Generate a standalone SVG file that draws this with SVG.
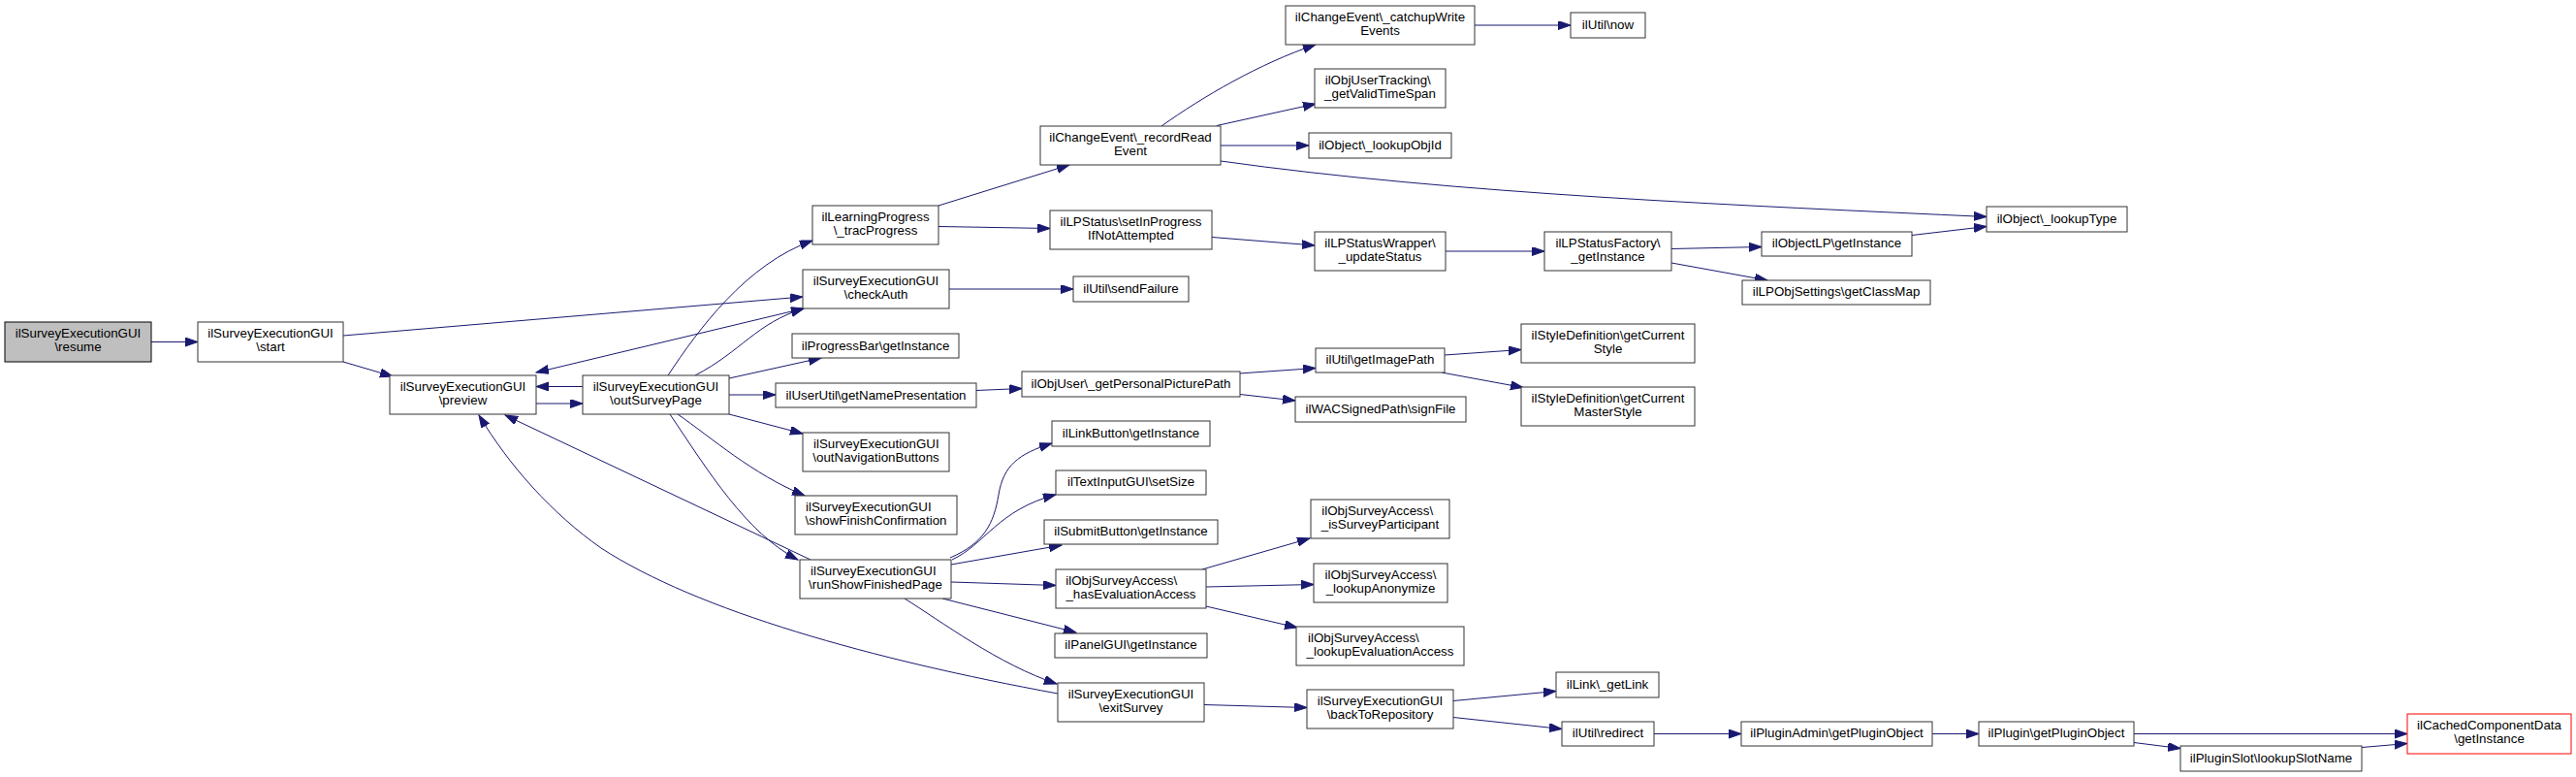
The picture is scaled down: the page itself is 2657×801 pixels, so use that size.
<svg xmlns="http://www.w3.org/2000/svg" width="2657" height="801" viewBox="0 0 2657 801">
<style>
.n rect{fill:#fff;stroke:#333;stroke-width:1}
.n text{font-family:"Liberation Sans",Arial,sans-serif;font-size:13.33px;fill:#000}
.m{text-anchor:middle}
.s{text-anchor:start}
#edges path{fill:none;stroke:#191970;stroke-width:1;marker-end:url(#ah)}
</style>
<defs>
<marker id="ah" markerUnits="userSpaceOnUse" markerWidth="14" markerHeight="10" refX="13" refY="4.5" orient="auto-start-reverse">
<path d="M0,0 L13,4.5 L0,9 z" fill="#191970" stroke="#191970" stroke-width="1"/>
</marker>
</defs>
<rect width="2657" height="801" fill="#fff"/>
<g id="edges">
<path d="M156,352.5 L204,352.5"/>
<path d="M354,346 L828,306"/>
<path d="M354,373 L405,388"/>
<path d="M553,416 L601,416"/>
<path d="M601,398.5 L553,398.5"/>
<path d="M689,387 C720,340 770,272 838,248"/>
<path d="M717,387 C765,362 780,333 829,318"/>
<path d="M553,384 L829,318" marker-start="url(#ah)"/>
<path d="M752,390 L847,369"/>
<path d="M752,407 L800,407"/>
<path d="M752,427 L828,447"/>
<path d="M699,427 C735,452 775,488 830,511"/>
<path d="M691,427 C730,485 770,550 823,577"/>
<path d="M836,577 L521,428"/>
<path d="M1091,715 C900,680 720,630 620,565 C570,530 525,480 494,428"/>
<path d="M980,575 C1015,560 1025,540 1030,510 C1035,480 1050,468 1085,457"/>
<path d="M982,577 C1015,562 1030,525 1089,510"/>
<path d="M981,582 L1095,562"/>
<path d="M981,600 L1089,603.5"/>
<path d="M972,617 L1110,652"/>
<path d="M933,617 C970,640 1030,685 1090,705"/>
<path d="M1242,726.5 L1348,729.5"/>
<path d="M1240,587 L1351,555"/>
<path d="M1244,605 L1355,602.5"/>
<path d="M1244,625 L1338,647"/>
<path d="M968,212 L1103,170"/>
<path d="M968,233.5 L1083,235.5"/>
<path d="M979,298 L1107,298"/>
<path d="M1007,402.5 L1054,400.5"/>
<path d="M1198,130 C1240,100 1300,65 1357,46"/>
<path d="M1255,129.5 L1357,107"/>
<path d="M1259,150 L1350,150"/>
<path d="M1259,166 C1500,200 1800,212 2049,223.5"/>
<path d="M1250,244.5 L1356,253"/>
<path d="M1491,259 L1593,259"/>
<path d="M1724,256.5 L1817,254.5"/>
<path d="M1724,271 L1823,289"/>
<path d="M1972,242.5 L2049,233.5"/>
<path d="M1521,26 L1620,26"/>
<path d="M1278,385 L1357,379.5"/>
<path d="M1279,406.5 L1336,413"/>
<path d="M1490,366 L1569,360.5"/>
<path d="M1487,384 L1571,399.5"/>
<path d="M1499,722.5 L1605,712.5"/>
<path d="M1499,739.5 L1611,751.5"/>
<path d="M1706,756.5 L1796,756.5"/>
<path d="M1993,756.5 L2041,756.5"/>
<path d="M2201,756.5 L2483,756.5"/>
<path d="M2201,765.5 L2249,771.5"/>
<path d="M2436,770.5 L2483,766.5"/>
</g>
<g id="n-resume" class="n"><rect x="5" y="332" width="151" height="41" style="fill:#bfbfbf;stroke:#000"/><text class="m" x="80.5" y="348">ilSurveyExecutionGUI</text><text class="m" x="80.5" y="362">\resume</text></g>
<g id="n-start" class="n"><rect x="204" y="332" width="150" height="41"/><text class="m" x="279" y="348">ilSurveyExecutionGUI</text><text class="m" x="279" y="362">\start</text></g>
<g id="n-preview" class="n"><rect x="402" y="387" width="151" height="40"/><text class="m" x="477.5" y="403">ilSurveyExecutionGUI</text><text class="m" x="477.5" y="417">\preview</text></g>
<g id="n-outSurveyPage" class="n"><rect x="601" y="387" width="151" height="40"/><text class="m" x="676.5" y="403">ilSurveyExecutionGUI</text><text class="m" x="676.5" y="417">\outSurveyPage</text></g>
<g id="n-tracProgress" class="n"><rect x="838" y="212" width="130" height="40"/><text class="m" x="903" y="228">ilLearningProgress</text><text class="m" x="903" y="242">\_tracProgress</text></g>
<g id="n-checkAuth" class="n"><rect x="828" y="278" width="151" height="40"/><text class="m" x="903.5" y="294">ilSurveyExecutionGUI</text><text class="m" x="903.5" y="308">\checkAuth</text></g>
<g id="n-progressBar" class="n"><rect x="817" y="344" width="172" height="25"/><text class="m" x="903" y="360.5">ilProgressBar\getInstance</text></g>
<g id="n-getNamePresentation" class="n"><rect x="800" y="395" width="207" height="25"/><text class="m" x="903.5" y="411.5">ilUserUtil\getNamePresentation</text></g>
<g id="n-outNavigationButtons" class="n"><rect x="828" y="446" width="151" height="40"/><text class="s" x="839" y="462">ilSurveyExecutionGUI</text><text class="m" x="903.5" y="476">\outNavigationButtons</text></g>
<g id="n-showFinishConfirmation" class="n"><rect x="820" y="511" width="167" height="40"/><text class="s" x="831" y="527">ilSurveyExecutionGUI</text><text class="m" x="903.5" y="541">\showFinishConfirmation</text></g>
<g id="n-runShowFinishedPage" class="n"><rect x="825" y="577" width="156" height="40"/><text class="s" x="836" y="593">ilSurveyExecutionGUI</text><text class="m" x="903" y="607">\runShowFinishedPage</text></g>
<g id="n-recordReadEvent" class="n"><rect x="1073" y="130" width="186" height="40"/><text class="m" x="1166" y="146">ilChangeEvent\_recordRead</text><text class="m" x="1166" y="160">Event</text></g>
<g id="n-setInProgress" class="n"><rect x="1083" y="217" width="167" height="40"/><text class="m" x="1166.5" y="233">ilLPStatus\setInProgress</text><text class="m" x="1166.5" y="247">IfNotAttempted</text></g>
<g id="n-sendFailure" class="n"><rect x="1107" y="285" width="119" height="26"/><text class="m" x="1166.5" y="301.5">ilUtil\sendFailure</text></g>
<g id="n-getPersonalPicturePath" class="n"><rect x="1054" y="383" width="225" height="26"/><text class="m" x="1166.5" y="399.5">ilObjUser\_getPersonalPicturePath</text></g>
<g id="n-linkButton" class="n"><rect x="1085" y="434" width="163" height="26"/><text class="m" x="1166.5" y="450.5">ilLinkButton\getInstance</text></g>
<g id="n-textInputGUI" class="n"><rect x="1089" y="485" width="155" height="25"/><text class="m" x="1166.5" y="501">ilTextInputGUI\setSize</text></g>
<g id="n-submitButton" class="n"><rect x="1077" y="536" width="179" height="25"/><text class="m" x="1166.5" y="552">ilSubmitButton\getInstance</text></g>
<g id="n-hasEvaluationAccess" class="n"><rect x="1089" y="587" width="155" height="40"/><text class="s" x="1099.3" y="603">ilObjSurveyAccess\</text><text class="m" x="1166.5" y="617">_hasEvaluationAccess</text></g>
<g id="n-panelGUI" class="n"><rect x="1088" y="653" width="157" height="25"/><text class="m" x="1166.5" y="669">ilPanelGUI\getInstance</text></g>
<g id="n-exitSurvey" class="n"><rect x="1091" y="704" width="151" height="40"/><text class="m" x="1166.5" y="720">ilSurveyExecutionGUI</text><text class="m" x="1166.5" y="734">\exitSurvey</text></g>
<g id="n-catchupWriteEvents" class="n"><rect x="1326" y="6" width="195" height="40"/><text class="m" x="1423.5" y="22">ilChangeEvent\_catchupWrite</text><text class="m" x="1423.5" y="36">Events</text></g>
<g id="n-now" class="n"><rect x="1620" y="13" width="77" height="26"/><text class="m" x="1658.5" y="29.5">ilUtil\now</text></g>
<g id="n-getValidTimeSpan" class="n"><rect x="1356" y="71" width="135" height="40"/><text class="s" x="1366.7" y="87">ilObjUserTracking\</text><text class="m" x="1423.5" y="101">_getValidTimeSpan</text></g>
<g id="n-lookupObjId" class="n"><rect x="1350" y="137" width="147" height="26"/><text class="m" x="1423.5" y="153.5">ilObject\_lookupObjId</text></g>
<g id="n-updateStatus" class="n"><rect x="1356" y="239" width="135" height="40"/><text class="m" x="1423.5" y="255">ilLPStatusWrapper\</text><text class="m" x="1423.5" y="269">_updateStatus</text></g>
<g id="n-lpStatusFactory" class="n"><rect x="1593" y="239" width="131" height="40"/><text class="m" x="1658.5" y="255">ilLPStatusFactory\</text><text class="m" x="1658.5" y="269">_getInstance</text></g>
<g id="n-getImagePath" class="n"><rect x="1357" y="359" width="133" height="25"/><text class="m" x="1423.5" y="375">ilUtil\getImagePath</text></g>
<g id="n-getCurrentStyle" class="n"><rect x="1569" y="334" width="179" height="40"/><text class="m" x="1658.5" y="350">ilStyleDefinition\getCurrent</text><text class="m" x="1658.5" y="364">Style</text></g>
<g id="n-getCurrentMasterStyle" class="n"><rect x="1569" y="399" width="179" height="40"/><text class="m" x="1658.5" y="415">ilStyleDefinition\getCurrent</text><text class="m" x="1658.5" y="429">MasterStyle</text></g>
<g id="n-signFile" class="n"><rect x="1336" y="409" width="176" height="26"/><text class="m" x="1424" y="425.5">ilWACSignedPath\signFile</text></g>
<g id="n-isSurveyParticipant" class="n"><rect x="1352" y="515" width="143" height="40"/><text class="s" x="1363.3" y="531">ilObjSurveyAccess\</text><text class="m" x="1423.5" y="545">_isSurveyParticipant</text></g>
<g id="n-lookupAnonymize" class="n"><rect x="1355" y="581" width="138" height="40"/><text class="m" x="1424" y="597">ilObjSurveyAccess\</text><text class="m" x="1424" y="611">_lookupAnonymize</text></g>
<g id="n-lookupEvaluationAccess" class="n"><rect x="1337" y="646" width="173" height="40"/><text class="s" x="1349" y="662">ilObjSurveyAccess\</text><text class="m" x="1423.5" y="676">_lookupEvaluationAccess</text></g>
<g id="n-backToRepository" class="n"><rect x="1348" y="711" width="151" height="40"/><text class="m" x="1423.5" y="727">ilSurveyExecutionGUI</text><text class="m" x="1423.5" y="741">\backToRepository</text></g>
<g id="n-getLink" class="n"><rect x="1605" y="693" width="106" height="26"/><text class="m" x="1658" y="709.5">ilLink\_getLink</text></g>
<g id="n-redirect" class="n"><rect x="1611" y="744" width="95" height="25"/><text class="m" x="1658.5" y="760">ilUtil\redirect</text></g>
<g id="n-lookupType" class="n"><rect x="2049" y="213" width="145" height="26"/><text class="m" x="2121.5" y="229.5">ilObject\_lookupType</text></g>
<g id="n-objectLP" class="n"><rect x="1817" y="239" width="155" height="25"/><text class="m" x="1894.5" y="255">ilObjectLP\getInstance</text></g>
<g id="n-lpObjSettings" class="n"><rect x="1797" y="289" width="194" height="25"/><text class="m" x="1894" y="305">ilLPObjSettings\getClassMap</text></g>
<g id="n-pluginAdmin" class="n"><rect x="1796" y="744" width="197" height="25"/><text class="m" x="1894.5" y="760">ilPluginAdmin\getPluginObject</text></g>
<g id="n-plugin" class="n"><rect x="2041" y="744" width="160" height="25"/><text class="m" x="2121" y="760">ilPlugin\getPluginObject</text></g>
<g id="n-lookupSlotName" class="n"><rect x="2249" y="769" width="187" height="26"/><text class="m" x="2342.5" y="785.5">ilPluginSlot\lookupSlotName</text></g>
<g id="n-cachedComponentData" class="n"><rect x="2483" y="736" width="169" height="41" style="stroke:#f00"/><text class="m" x="2567.5" y="752">ilCachedComponentData</text><text class="m" x="2567.5" y="766">\getInstance</text></g>
</svg>
